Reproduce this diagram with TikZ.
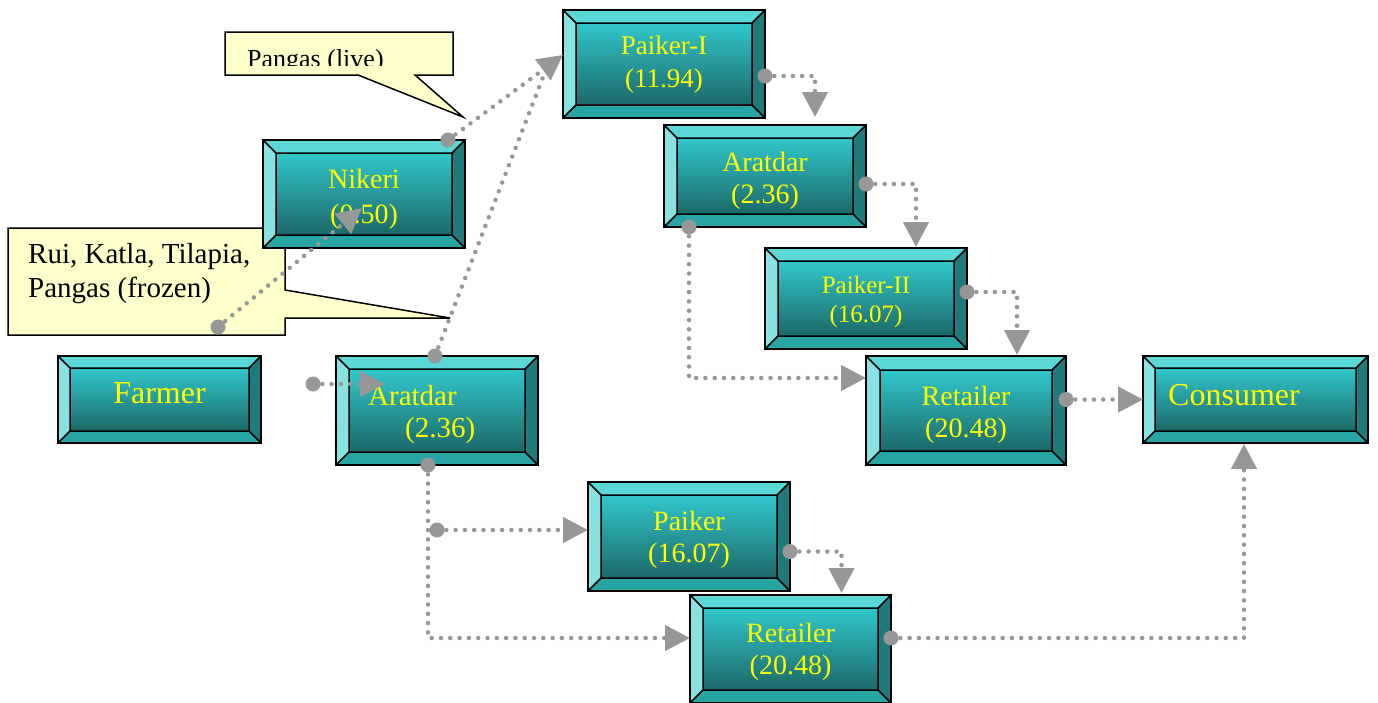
\documentclass[tikz,border=0pt]{standalone}
\usepackage{fontspec}
\setmainfont{Liberation Serif}
\usetikzlibrary{arrows.meta,calc}
\definecolor{bvTop}{HTML}{5AD8D8}
\definecolor{bvLeft}{HTML}{88E2E2}
\definecolor{bvRight}{HTML}{1F7B7B}
\definecolor{bvBot}{HTML}{27A4A4}
\definecolor{inTop}{HTML}{31C7CB}
\definecolor{inMid}{HTML}{28A3A5}
\definecolor{inBot}{HTML}{1C6868}
\definecolor{connc}{HTML}{979797}
\definecolor{calloutc}{HTML}{FFFFCC}
\definecolor{lblc}{HTML}{FFFF00}
\def\bevw{13pt}
\newcommand\bevelpic{%
  \path (path picture bounding box.north west) coordinate (bNW)
        (path picture bounding box.north east) coordinate (bNE)
        (path picture bounding box.south west) coordinate (bSW)
        (path picture bounding box.south east) coordinate (bSE)
        ([xshift=\bevw,yshift=-\bevw]path picture bounding box.north west) coordinate (iNW)
        ([xshift=-\bevw,yshift=-\bevw]path picture bounding box.north east) coordinate (iNE)
        ([xshift=\bevw,yshift=\bevw]path picture bounding box.south west) coordinate (iSW)
        ([xshift=-\bevw,yshift=\bevw]path picture bounding box.south east) coordinate (iSE);
  \fill[bvTop] (bNW) -- (bNE) -- (iNE) -- (iNW) -- cycle;
  \fill[bvBot] (bSW) -- (bSE) -- (iSE) -- (iSW) -- cycle;
  \fill[bvLeft] (bNW) -- (bSW) -- (iSW) -- (iNW) -- cycle;
  \fill[bvRight] (bNE) -- (bSE) -- (iSE) -- (iNE) -- cycle;
  \shade[top color=inTop, middle color=inMid, bottom color=inBot] (iSW) rectangle (iNE);
  \draw[black, line width=1.5pt, line join=miter] (iSW) rectangle (iNE)
     (bNW) -- (iNW) (bNE) -- (iNE) (bSW) -- (iSW) (bSE) -- (iSE);
}
\tikzset{
  bevw/.code={\def\bevw{#1}},
  bevbox/.style={rectangle, inner sep=0pt, outer sep=0pt, draw=black,
    line width=1.5pt, path picture={\bevelpic}},
  lbl/.style={text=lblc, align=center, inner sep=0pt, font=\fontsize{28}{32}\selectfont},
  flowline/.style={draw=connc, line width=4.5pt, line cap=round, dash pattern=on 0pt off 9.3pt},
  flow/.style={flowline, -{Triangle[length=25pt,width=25pt]}},
  calloutbox/.style={fill=calloutc, draw=black, line width=1.5pt, line join=miter},
  calltext/.style={text=black, inner sep=0pt, anchor=base west},
}
\begin{document}
\begin{tikzpicture}[x=1pt,y=-1pt]
\path[use as bounding box, fill=white] (0,0) rectangle (1378,702);

% callouts
\draw[calloutbox] (225,32) -- (453,32) -- (453,75) -- (415,75) -- (463,117) -- (358,75) -- (225,75) -- cycle;
\begin{scope}
  \clip (225,32) rectangle (453,65.5);
  \node[calltext, font=\fontsize{26}{30}\selectfont] (cl1t) at (247,67) {Pangas (live)};
\end{scope}
\draw[calloutbox] (8,228) -- (285,228) -- (285,290) -- (450,318) -- (285,318) -- (285,335) -- (8,335) -- cycle;
\node[calltext, font=\fontsize{29}{34}\selectfont] (cl2a) at (28,263) {Rui, Katla, Tilapia,};
\node[calltext, font=\fontsize{29}{34}\selectfont] (cl2b) at (28,297) {Pangas (frozen)};

% boxes
\node[bevbox, minimum width=202pt, minimum height=108pt] (p1) at (664,64) {};
\node[bevbox, minimum width=202pt, minimum height=102pt] (a1) at (765,176) {};
\node[bevbox, minimum width=202pt, minimum height=101pt] (p2) at (866,298.5) {};
\node[bevbox, minimum width=200pt, minimum height=109pt, bevw=14pt] (r1) at (966,410.5) {};
\node[bevbox, minimum width=225pt, minimum height=87pt, bevw=12pt] (c) at (1255.5,399.5) {};
\node[bevbox, minimum width=203pt, minimum height=87pt, bevw=12pt] (f) at (159.5,399.5) {};
\node[bevbox, minimum width=202pt, minimum height=109pt] (a2) at (437,410.5) {};
\node[bevbox, minimum width=202pt, minimum height=108pt] (n) at (364,194) {};
\node[bevbox, minimum width=202pt, minimum height=109pt] (p3) at (689,536.5) {};
\node[bevbox, minimum width=201pt, minimum height=108pt] (r2) at (790.5,649) {};

% labels
\node[lbl, font=\fontsize{27}{33}\selectfont] (p1t) at (664,65) {Paiker-I\\(11.94)};
\node[lbl] (a1t) at (765,181) {Aratdar\\(2.36)};
\node[lbl, font=\fontsize{25}{29}\selectfont] (p2t) at (866,301.5) {Paiker-II\\(16.07)};
\node[lbl] (r1t) at (966,414.5) {Retailer\\(20.48)};
\node[lbl, font=\fontsize{28}{35}\selectfont] (nt) at (364,199) {Nikeri\\(0.50)};
\node[lbl] (p3t) at (689,539.5) {Paiker\\(16.07)};
\node[lbl] (r2t) at (790.5,651.5) {Retailer\\(20.48)};
\node[lbl, font=\fontsize{32}{36}\selectfont] (ft) at (159.5,393) {Farmer};
\node[lbl, font=\fontsize{32}{36}\selectfont, anchor=base west] (ct) at (1168,405.5) {Consumer};
\node[lbl, font=\fontsize{29}{33}\selectfont, anchor=base west] (a2ta) at (368,405) {Aratdar};
\node[lbl, font=\fontsize{29}{33}\selectfont, anchor=base west] (a2tb) at (405,437) {(2.36)};

% connectors
\coordinate (p1in) at ([yshift=9pt]p1.west);
\coordinate (fas) at (313,384);
\draw[flow] (fas) -- ([xshift=49pt,yshift=26.5pt]a2.west);
\fill[connc] (fas) circle (7.5pt);

\draw[flowline] ([xshift=-2pt]a2.north) -- ([xshift=-18pt,yshift=-8pt]p1.west);
\fill[connc] ([xshift=-2pt]a2.north) circle (7.5pt);

\draw[flow] ([xshift=-17pt]n.north east) -- (p1in);
\fill[connc] ([xshift=-17pt]n.north east) circle (7.5pt);

\coordinate (cls) at (218,327);
\draw[flow] (cls) -- ([xshift=-2pt,yshift=-14pt]n.center);
\fill[connc] (cls) circle (7.5pt);

\draw[flow] ([yshift=-12pt]p1.east) -| ([xshift=50pt,yshift=8pt]a1.north);
\fill[connc] ([yshift=-12pt]p1.east) circle (7.5pt);

\draw[flow] ([yshift=-8pt]a1.east) -| ([xshift=50pt,yshift=1pt]p2.north);
\fill[connc] ([yshift=-8pt]a1.east) circle (7.5pt);

\draw[flow] ([yshift=6.5pt]p2.east) -| ([xshift=51pt,yshift=1pt]r1.north);
\fill[connc] ([yshift=6.5pt]p2.east) circle (7.5pt);

\draw[flow] ([xshift=-76pt]a1.south) |- ([yshift=32.5pt]r1.west);
\fill[connc] ([xshift=-76pt]a1.south) circle (7.5pt);

\draw[flow] ([yshift=11pt]r1.east) -- (c.west);
\fill[connc] ([yshift=11pt]r1.east) circle (7.5pt);

\draw[flow] ([xshift=-9pt]a2.south) |- ([yshift=11pt]r2.west);
\fill[connc] ([xshift=-9pt]a2.south) circle (7.5pt);

\coordinate (aps) at (437,530);
\draw[flow] (aps) -- ([yshift=6.5pt]p3.west);
\fill[connc] (aps) circle (7.5pt);

\draw[flow] ([yshift=-15pt]p3.east) -| ([xshift=51pt,yshift=2pt]r2.north);
\fill[connc] ([yshift=-15pt]p3.east) circle (7.5pt);

\draw[flow] ([yshift=11pt]r2.east) -| ([xshift=-11.5pt,yshift=-1pt]c.south);
\fill[connc] ([yshift=11pt]r2.east) circle (7.5pt);
\end{tikzpicture}
\end{document}
